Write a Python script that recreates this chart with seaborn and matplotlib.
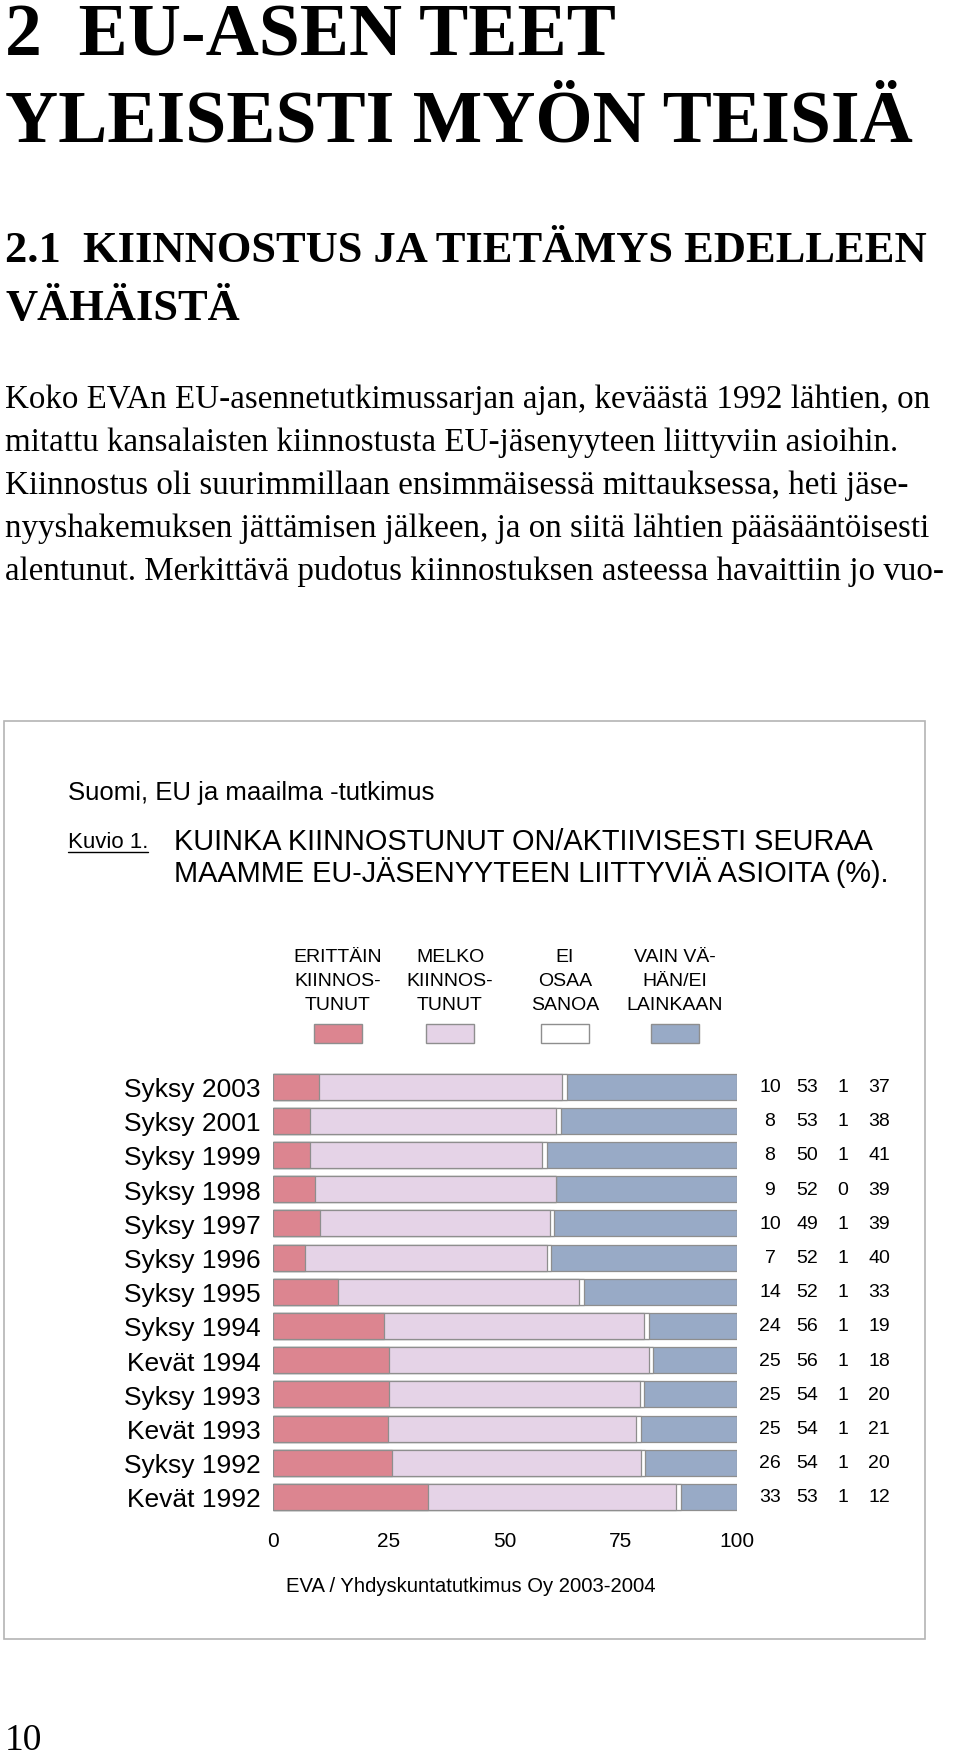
import matplotlib
matplotlib.use("Agg")
import matplotlib.pyplot as plt
import seaborn as sns
import pandas as pd
from matplotlib.patches import Rectangle
from matplotlib.lines import Line2D

# survey rounds, top to bottom
periods = ["Syksy 2003", "Syksy 2001", "Syksy 1999", "Syksy 1998", "Syksy 1997",
           "Syksy 1996", "Syksy 1995", "Syksy 1994", "Kevät 1994", "Syksy 1993",
           "Kevät 1993", "Syksy 1992", "Kevät 1992"]
very_interested = [10, 8, 8, 9, 10, 7, 14, 24, 25, 25, 25, 26, 33]
fairly_interested = [53, 53, 50, 52, 49, 52, 52, 56, 56, 54, 54, 54, 53]
cant_say = [1, 1, 1, 0, 1, 1, 1, 1, 1, 1, 1, 1, 1]
little_or_none = [37, 38, 41, 39, 39, 40, 33, 19, 18, 20, 21, 20, 12]

series_labels = [["ERITTÄIN", "KIINNOS-", "TUNUT"],
                 ["MELKO", "KIINNOS-", "TUNUT"],
                 ["EI", "OSAA", "SANOA"],
                 ["VAIN VÄ-", "HÄN/EI", "LAINKAAN"]]
colors = ["#dc8590", "#e5d3e7", "#ffffff", "#98aac6"]
edge = "#8e8e8e"

title_lines = ["2  EU-ASEN TEET", "YLEISESTI MYÖN TEISIÄ"]
sub_lines = ["2.1  KIINNOSTUS JA TIETÄMYS EDELLEEN", "VÄHÄISTÄ"]
body_lines = [
    "Koko EVAn EU-asennetutkimussarjan ajan, keväästä 1992 lähtien, on",
    "mitattu kansalaisten kiinnostusta EU-jäsenyyteen liittyviin asioihin.",
    "Kiinnostus oli suurimmillaan ensimmäisessä mittauksessa, heti jäse-",
    "nyyshakemuksen jättämisen jälkeen, ja on siitä lähtien pääsääntöisesti",
    "alentunut. Merkittävä pudotus kiinnostuksen asteessa havaittiin jo vuo-",
]

W, H = 960, 1758
SERIF = ["Liberation Serif", "DejaVu Serif"]
SANS = ["Liberation Sans", "DejaVu Sans"]


def fx(px):
    return px / W


def fy(py):
    return 1 - py / H


sns.set_style("white")
plt.rcParams["font.family"] = SANS
plt.rcParams["text.color"] = "black"

cols = ["very", "fairly", "cant", "little"]
df = pd.DataFrame({
    "period": periods,
    "very": very_interested,
    "fairly": fairly_interested,
    "cant": cant_say,
    "little": little_or_none,
})
totals = df[cols].sum(axis=1)
cum = df[cols].cumsum(axis=1).div(totals, axis=0) * 100
cum["period"] = df["period"]

fig = plt.figure(figsize=(W / 100, H / 100), dpi=100)

# --- page text ---
for s, yb in zip(title_lines, [55, 142]):
    fig.text(fx(5), fy(yb), s, family=SERIF, weight="bold", size=53, va="baseline")
for s, yb in zip(sub_lines, [262, 320]):
    fig.text(fx(5), fy(yb), s, family=SERIF, weight="bold", size=32, va="baseline")
for i, s in enumerate(body_lines):
    fig.text(fx(5), fy(408 + 43 * i), s, family=SERIF, size=23.8, va="baseline")
fig.text(fx(5), fy(1750), "10", family=SERIF, size=27, va="baseline")

# --- figure box ---
fig.add_artist(Rectangle((fx(4), fy(1640)), fx(925) - fx(4), fy(722) - fy(1640),
                         transform=fig.transFigure, fill=False,
                         edgecolor="#b4b4b4", lw=1.2))

fig.text(fx(68), fy(800), "Suomi, EU ja maailma -tutkimus", size=18.5, va="baseline")
kuvio = fig.text(fx(68), fy(848), "Kuvio 1.", size=16, va="baseline")
fig.text(fx(174), fy(850), "KUINKA KIINNOSTUNUT ON/AKTIIVISESTI SEURAA",
         size=20.8, va="baseline")
fig.text(fx(174), fy(882), "MAAMME EU-JÄSENYYTEEN LIITTYVIÄ ASIOITA (%).",
         size=20.8, va="baseline")

# legend: labels above swatches
leg_x = [338, 450, 565, 675]
for lines, cx, color in zip(series_labels, leg_x, colors):
    for s, yb in zip(lines, [962, 986, 1010]):
        fig.text(fx(cx), fy(yb), s, size=14, ha="center", va="baseline")
    fig.add_artist(Rectangle((fx(cx - 24), fy(1044)), 48 / W, 19 / H,
                             transform=fig.transFigure, facecolor=color,
                             edgecolor=edge, lw=1))

# --- stacked bars (drawn back to front as cumulative shares) ---
row_h = 34.2
top = 1087.5 - row_h / 2
bottom = 1498 + row_h / 2
ax = fig.add_axes([fx(273), fy(bottom), 464 / W, (bottom - top) / H])

for col, color in reversed(list(zip(cols, colors))):
    sns.barplot(data=cum, x=col, y="period", order=periods, orient="h",
                color=color, saturation=1, edgecolor=edge, linewidth=0.9,
                width=0.76, errorbar=None, ax=ax)

ax.set_xlim(0, 100)
ax.set_ylim(len(periods) - 0.5, -0.5)
ax.set_xticks([0, 25, 50, 75, 100])
ax.set_xlabel("")
ax.set_ylabel("")
sns.despine(ax=ax, left=True, bottom=True)
ax.tick_params(axis="x", length=7, width=1, color="#9a9a9a", labelcolor="black",
               labelsize=15, pad=5)
ax.tick_params(axis="y", length=0, labelsize=19, pad=9, labelcolor="black")

# value columns to the right of the bars
val_x = [1.071, 1.151, 1.228, 1.306]
values = [very_interested, fairly_interested, cant_say, little_or_none]
for xpos, vals in zip(val_x, values):
    for i, v in enumerate(vals):
        ax.text(xpos, i, str(v), transform=ax.get_yaxis_transform(),
                ha="center", va="center", size=14)

fig.text(fx(471), fy(1592), "EVA / Yhdyskuntatutkimus Oy 2003-2004",
         size=14.6, ha="center", va="baseline")

# underline "Kuvio 1." to the width of its text
fig.canvas.draw()
bb = kuvio.get_window_extent()
fig.add_artist(Line2D([bb.x0 / W, bb.x1 / W], [fy(853), fy(853)],
                      transform=fig.transFigure, color="black", lw=1))

fig.savefig("out.png", dpi=100)
plt.close(fig)
